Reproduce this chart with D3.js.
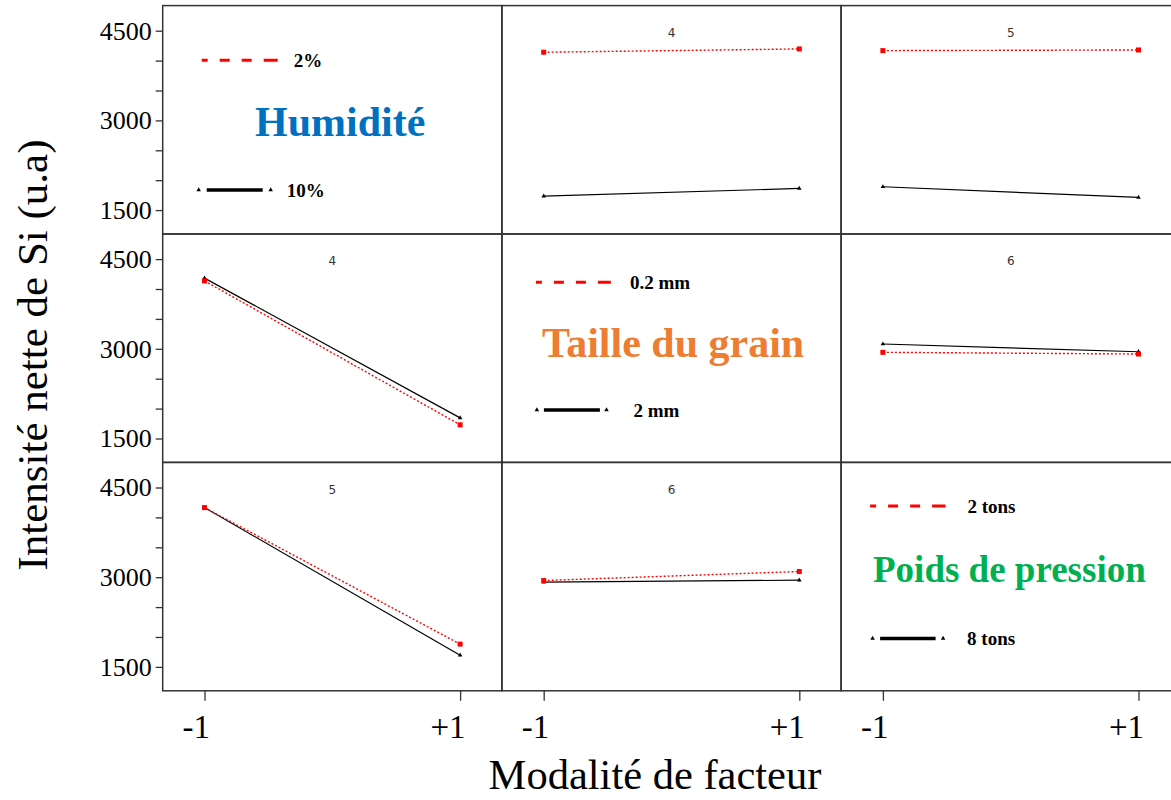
<!DOCTYPE html>
<html><head><meta charset="utf-8">
<script src="https://cdn.jsdelivr.net/npm/d3@7"></script>
<style>body{margin:0;background:#fff} svg{display:block}</style>
</head><body><svg id="c" width="1171" height="800"></svg>
<script>
// ---------- data ----------
const xLevels = [-1, 1];
const xTickLabels = ["-1", "+1"];
const yMajorTicks = [1500, 3000, 4500];
const yMinorTicks = [2000, 2500, 3500, 4000];
const factorNames = ["Humidité", "Taille du grain", "Poids de pression"];
const levelNames = [["2%", "10%"], ["0.2 mm", "2 mm"], ["2 tons", "8 tons"]];
const panelNumbers = [["", "4", "5"], ["4", "", "6"], ["5", "6", ""]];
// row factor = lines (low level red, high level black), column factor = x axis
const humTaille_low = [4140, 4195], humTaille_high = [1733, 1862];
const humPoids_low = [4167, 4178], humPoids_high = [1890, 1712];
const tailleHum_low = [4136, 1728], tailleHum_high = [4182, 1845];
const taillePoids_low = [2941, 2913], taillePoids_high = [3080, 2951];
const poidsHum_low = [4164, 1881], poidsHum_high = [4164, 1696];
const poidsTaille_low = [2944, 3095], poidsTaille_high = [2916, 2950];

const series = {
  "0-1": [humTaille_low, humTaille_high],
  "0-2": [humPoids_low, humPoids_high],
  "1-0": [tailleHum_low, tailleHum_high],
  "1-2": [taillePoids_low, taillePoids_high],
  "2-0": [poidsHum_low, poidsHum_high],
  "2-1": [poidsTaille_low, poidsTaille_high]
};

// ---------- layout ----------
const gridLeft = 162.7, gridTop = 5.6, colW = 339.2, rowH = 228.4;
const serif = "'Liberation Serif','Times New Roman',serif";
const titleColors = ["#0070C0", "#ED7D31", "#00B050"];
// legend layout per diagonal panel (relative to panel)
const legendLayout = [
  {redY: 54.7, redX: [39, 115], redLbl: 131, blkY: 184.4, tri: [36, 108], blk: [44, 100], blkLbl: 124,
   tX: 92.3, tY: 130.4, tSize: 42},
  {redY: 48.3, redX: [34, 109], redLbl: 128, blkY: 176, tri: [35, 104.6], blk: [42, 98], blkLbl: 131.6,
   tX: 40.1, tY: 123, tSize: 42},
  {redY: 43.6, redX: [29, 104.5], redLbl: 126.3, blkY: 176, tri: [31.5, 102], blk: [39, 94.5], blkLbl: 126,
   tX: 31.9, tY: 119.6, tSize: 37}
];

const svg = d3.select("#c");
const tri = d3.symbol().type(d3.symbolTriangle).size(9);

for (let r = 0; r < 3; r++) {
  for (let c = 0; c < 3; c++) {
    const x0 = gridLeft + c * colW, y0 = gridTop + r * rowH;
    const x = d3.scaleLinear().domain([-1.327, 1.327]).range([x0, x0 + colW]);
    const y = d3.scaleLinear().domain([1100, 4920]).range([y0 + rowH, y0]);
    const g = svg.append("g");
    if (r === c) {
      const L = legendLayout[r];
      g.append("line").attr("x1", x0 + L.redX[0]).attr("x2", x0 + L.redX[1])
        .attr("y1", y0 + L.redY).attr("y2", y0 + L.redY)
        .attr("stroke", "#f00").attr("stroke-width", 3).attr("stroke-dasharray", "6,12,10,12,10,12,14");
      g.append("text").attr("x", x0 + L.redLbl).attr("y", y0 + L.redY).attr("dy", "0.35em")
        .attr("font-family", serif).attr("font-weight", "bold").attr("font-size", 19)
        .text(levelNames[r][0]);
      g.append("line").attr("x1", x0 + L.blk[0]).attr("x2", x0 + L.blk[1])
        .attr("y1", y0 + L.blkY).attr("y2", y0 + L.blkY)
        .attr("stroke", "#000").attr("stroke-width", 3.5);
      L.tri.forEach(tx => g.append("path").attr("d", tri)
        .attr("transform", `translate(${x0 + tx},${y0 + L.blkY})`).attr("fill", "#000"));
      g.append("text").attr("x", x0 + L.blkLbl).attr("y", y0 + L.blkY).attr("dy", "0.35em")
        .attr("font-family", serif).attr("font-weight", "bold").attr("font-size", 19)
        .text(levelNames[r][1]);
      g.append("text").attr("x", x0 + L.tX).attr("y", y0 + L.tY)
        .attr("font-family", serif).attr("font-weight", "bold").attr("font-size", L.tSize)
        .attr("fill", titleColors[r]).text(factorNames[r]);
    } else {
      const [low, high] = series[r + "-" + c];
      const line = d3.line().x((d, i) => x(xLevels[i])).y(d => y(d));
      g.append("text").attr("x", x0 + colW / 2).attr("y", y0 + 27).attr("dy", "0.35em")
        .attr("text-anchor", "middle").attr("font-family", "'DejaVu Sans',sans-serif")
        .attr("font-size", 12).attr("fill", "#333").text(panelNumbers[r][c]);
      g.append("path").datum(high).attr("d", line).attr("fill", "none")
        .attr("stroke", "#000").attr("stroke-width", 1.2);
      g.append("path").datum(low).attr("d", line).attr("fill", "none")
        .attr("stroke", "#f00").attr("stroke-width", 1.4).attr("stroke-dasharray", "2,2");
      high.forEach((v, i) => g.append("path").attr("d", tri)
        .attr("transform", `translate(${x(xLevels[i])},${y(v)})`).attr("fill", "#000"));
      low.forEach((v, i) => g.append("rect")
        .attr("x", x(xLevels[i]) - 2.5).attr("y", y(v) - 2.5).attr("width", 5).attr("height", 5)
        .attr("fill", "#f00"));
    }
    g.append("rect").attr("x", x0).attr("y", y0).attr("width", colW).attr("height", rowH)
      .attr("fill", "none").attr("stroke", "#333").attr("stroke-width", 1.5);

    if (c === 0) {
      const ax = svg.append("g").attr("transform", `translate(${x0},0)`)
        .call(d3.axisLeft(y).tickValues(yMajorTicks.concat(yMinorTicks)).tickSize(7)
          .tickFormat(d => yMajorTicks.includes(d) ? d : ""));
      ax.select(".domain").remove();
      ax.selectAll("line").attr("stroke", "#333").attr("stroke-width", 1.3);
      ax.selectAll("text").attr("font-family", serif).attr("font-size", 26)
        .attr("fill", "#000").attr("x", -11);
    }
    if (r === 2) {
      const ax = svg.append("g").attr("transform", `translate(0,${y0 + rowH})`)
        .call(d3.axisBottom(x).tickValues(xLevels).tickSize(10)
          .tickFormat((d, i) => xTickLabels[i]));
      ax.select(".domain").remove();
      ax.selectAll("line").attr("stroke", "#333").attr("stroke-width", 1.3);
      ax.selectAll("text").attr("font-family", serif).attr("font-size", 33)
        .attr("fill", "#000").attr("text-anchor", "end").attr("x", 5).attr("y", 24).attr("dy", "0.71em");
    }
  }
}

svg.append("text").attr("x", 655).attr("y", 789).attr("text-anchor", "middle")
  .attr("font-family", serif).attr("font-size", 42.5).text("Modalité de facteur");
svg.append("text").attr("transform", "translate(47,355) rotate(-90)").attr("text-anchor", "middle")
  .attr("font-family", serif).attr("font-size", 43).text("Intensité nette de Si (u.a)");
</script></body></html>
